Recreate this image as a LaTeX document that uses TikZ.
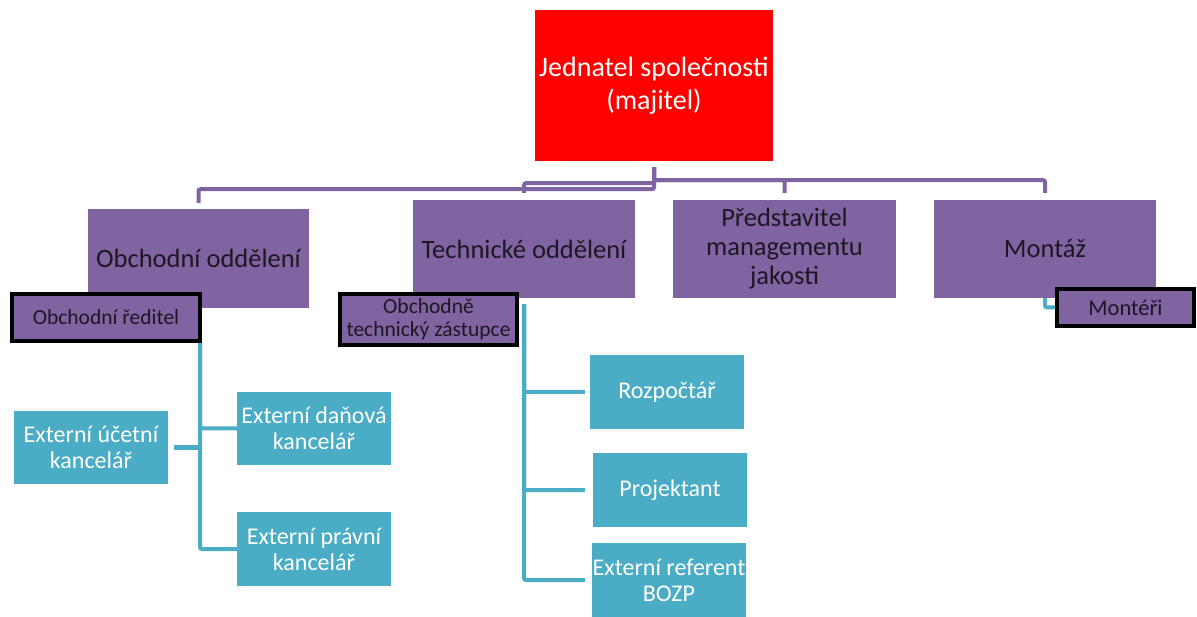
\documentclass[tikz,border=0pt]{standalone}
\usepackage{fontspec}
\setmainfont{Carlito}
\usepackage{tikz}
\usetikzlibrary{positioning,calc,backgrounds}

\definecolor{ownerred}{HTML}{FF0000}
\definecolor{deptpurple}{HTML}{8064A2}
\definecolor{extteal}{HTML}{4BACC6}
\definecolor{darktext}{HTML}{1C1722}

\begin{document}
\begin{tikzpicture}[
  x=1pt,y=-1pt,
  owner/.style={rectangle,fill=ownerred,text=white,minimum width=238pt,minimum height=151pt,
                align=center,inner sep=0pt,font=\fontsize{28}{33}\selectfont},
  dept/.style={rectangle,fill=deptpurple,text=darktext,minimum width=222pt,minimum height=98pt,
               align=center,inner sep=0pt,font=\fontsize{26.5}{29}\selectfont},
  lead/.style={rectangle,fill=deptpurple,draw=black,line width=4pt,text=darktext,
               align=center,inner sep=0pt,font=\fontsize{21.5}{23}\selectfont},
  ext/.style={rectangle,fill=extteal,text=white,minimum width=154pt,minimum height=74pt,
              align=center,inner sep=0pt,font=\fontsize{24}{26}\selectfont},
  orgline/.style={draw=deptpurple,line width=4pt,rounded corners=2pt},
  subline/.style={draw=extteal,line width=4pt,rounded corners=2pt}
]
  \useasboundingbox (0,0) rectangle (1197,617);

  % top
  \node[owner](root) at (654,85.5){Jednatel společnosti\\(majitel)};

  % departments
  \node[dept,minimum width=221pt,minimum height=99pt](obch) at (198.5,258.5){Obchodní oddělení};
  \node[dept](tech) at (524,249){Technické oddělení};
  \node[dept,minimum width=223pt](pred) at (784.5,249){Představitel\\managementu\\jakosti};
  \node[dept](mont) at (1045,249){Montáž};

  % heads
  \node[lead,minimum width=188pt,minimum height=47pt](obred) at (106,317.5){Obchodní ředitel};
  \node[lead,minimum width=177pt,minimum height=51pt](obtz) at (428.5,319.5){Obchodně\\technický zástupce};
  \node[lead,minimum width=137pt,minimum height=37pt,font=\fontsize{22.5}{24}\selectfont](monteri) at (1125.5,307.5){Montéři};

  % external
  \node[ext,minimum height=73pt](ucet) at (91,447.5){Externí účetní\\kancelář};
  \node[ext,minimum height=73pt](dan) at (314,428.5){Externí daňová\\kancelář};
  \node[ext](prav) at (314,549){Externí právní\\kancelář};
  \node[ext](rozp) at (667,392){Rozpočtář};
  \node[ext](proj) at (670,490){Projektant};
  \node[ext](bozp) at (669,580){Externí referent\\BOZP};

  \begin{scope}[on background layer]
    \draw[orgline,shorten <=6pt,shorten >=7pt](root.south) -- ++(0,19) -| (mont.north);
    \draw[orgline,shorten <=6pt,shorten >=7pt](root.south) -- ++(0,19) -| (pred.north);
    \draw[orgline,shorten <=6pt,shorten >=7pt](root.south) -- ++(0,22) -| (tech.north);
    \draw[orgline,shorten <=6pt,shorten >=6pt](root.south) -- ++(0,28) -| (obch.north);

    \coordinate (obtrunk) at ($(obred.south east)+(-2,0)$);
    \draw[subline](obtrunk) |- (dan.west);
    \draw[subline](obtrunk) |- (prav.west);
    \draw[subline,shorten <=6pt](ucet.east) -- (ucet.east -| obtrunk);

    \draw[subline,shorten <=6pt,shorten >=5pt](tech.south) |- (rozp.west);
    \draw[subline,shorten <=6pt,shorten >=8pt](tech.south) |- (proj.west);
    \draw[subline,shorten <=6pt,shorten >=7pt](tech.south) |- (bozp.west);

    \draw[subline](mont.south) |- (monteri.west);
  \end{scope}
\end{tikzpicture}
\end{document}
